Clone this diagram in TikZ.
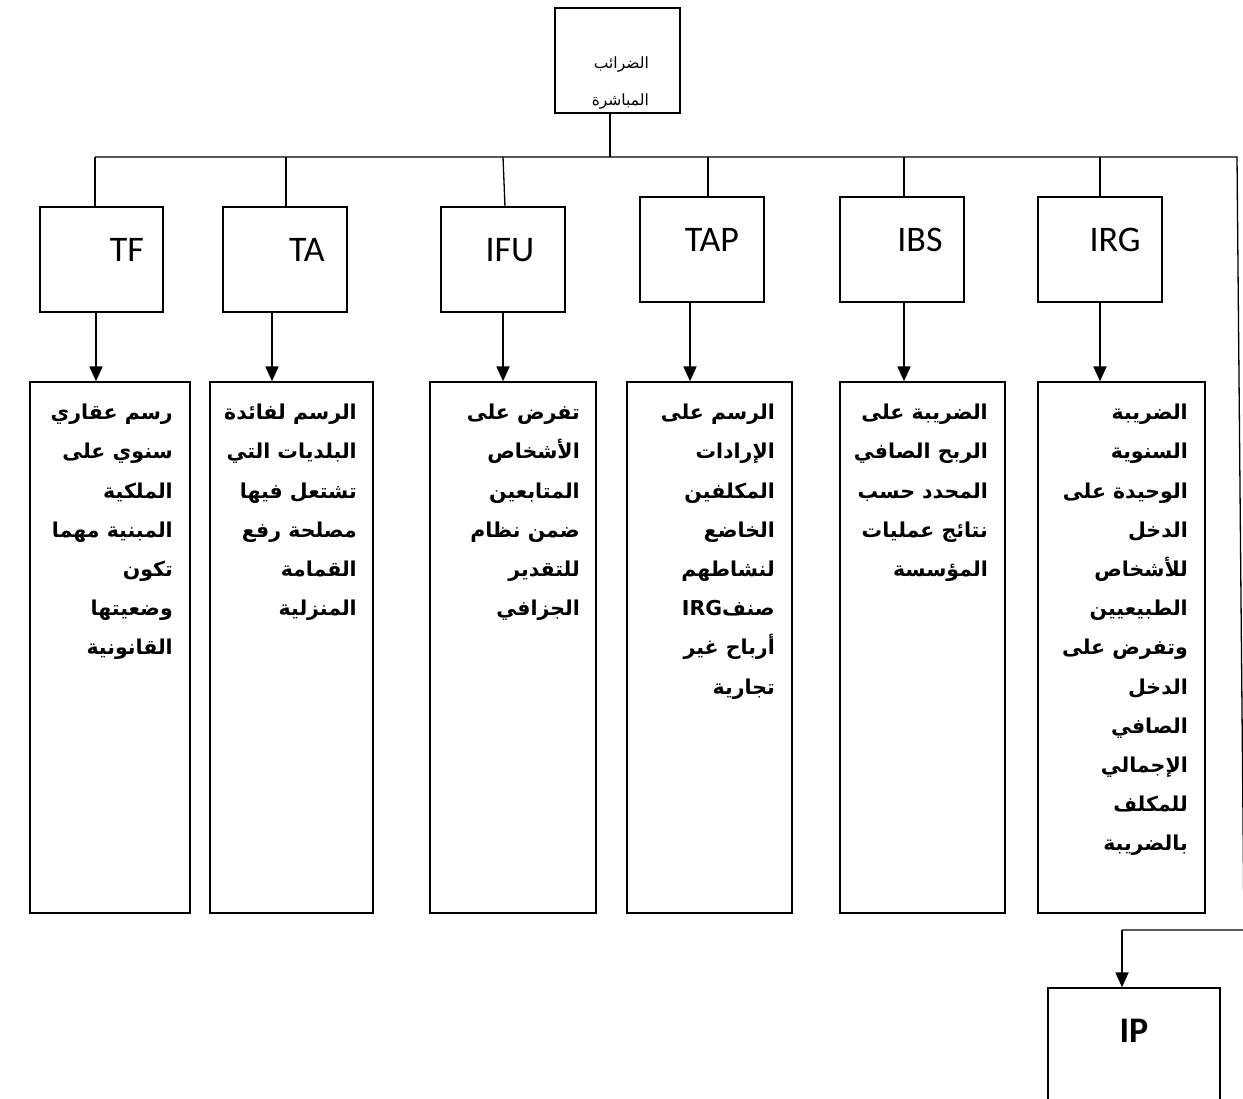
\documentclass[tikz,border=0pt]{standalone}
\usepackage{fontspec}
\setmainfont{Liberation Sans}
\newfontfamily\arabicfont[Script=Arabic]{DejaVu Sans}
\newfontfamily\latinlab{Carlito}
\TeXXeTstate=1
\usetikzlibrary{arrows.meta}
\newcommand\arl[1]{\beginR #1\endR}
\begin{document}
\begin{tikzpicture}[x=1pt,y=-1pt,
  box/.style={draw,line width=1.3pt,inner sep=0pt},
  lab/.style={font=\latinlab\fontsize{36}{40}\selectfont, anchor=base, inner sep=0pt},
  body/.style={anchor=north east, align=right, inner sep=0pt, font=\arabicfont\bfseries\fontsize{20.5}{39.2}\selectfont},
  arr/.style={line width=1.8pt,-{Triangle[width=13pt,length=15pt]}},
  ln/.style={line width=1.3pt}]
\useasboundingbox[fill=white] (0,0) rectangle (1243,1099);

% top box
\node[box,minimum width=125,minimum height=105] (top) at (617.5,60.5) {};
\node[anchor=north east,align=right,inner sep=0pt,font=\arabicfont\fontsize{15.5}{37}\selectfont] (toptxt) at (649,57) {\arl{الضرائب}\\\arl{المباشرة}};

% label boxes
\node[box,minimum width=123,minimum height=105] (tf) at (101.5,259.5) {};
\node[box,minimum width=124,minimum height=105] (ta) at (285,259.5) {};
\node[box,minimum width=124,minimum height=105] (ifu) at (503,259.5) {};
\node[box,minimum width=124,minimum height=105] (tap) at (702,249.5) {};
\node[box,minimum width=124,minimum height=105] (ibs) at (902,249.5) {};
\node[box,minimum width=124,minimum height=105] (irg) at (1100,249.5) {};

\node[lab] (tfl) at (127,262) {TF};
\node[lab] (tal) at (307,262) {TA};
\node[lab] (ifulab) at (510,262) {IFU};
\node[lab] (tapl) at (712,252) {TAP};
\node[lab] (ibsl) at (920,252) {IBS};
\node[lab] (irgl) at (1115,252) {IRG};

% description boxes
\node[box,minimum width=160,minimum height=531] (tfd) at (110,647.5) {};
\node[box,minimum width=163,minimum height=531] (tad) at (291.5,647.5) {};
\node[box,minimum width=166,minimum height=531] (ifud) at (513,647.5) {};
\node[box,minimum width=165,minimum height=531] (tapd) at (709.5,647.5) {};
\node[box,minimum width=165,minimum height=531] (ibsd) at (922.5,647.5) {};
\node[box,minimum width=167,minimum height=531] (irgd) at (1121.5,647.5) {};

\node[body] (tft) at (173,404) {\arl{رسم عقاري}\\\arl{سنوي على}\\\arl{الملكية}\\\arl{المبنية مهما}\\\arl{تكون}\\\arl{وضعيتها}\\\arl{القانونية}};
\node[body] (tat) at (357,404) {\arl{الرسم لفائدة}\\\arl{البلديات التي}\\\arl{تشتعل فيها}\\\arl{مصلحة رفع}\\\arl{القمامة}\\\arl{المنزلية}};
\node[body] (ifut) at (580,404) {\arl{تفرض على}\\\arl{الأشخاص}\\\arl{المتابعين}\\\arl{ضمن نظام}\\\arl{للتقدير}\\\arl{الجزافي}};
\node[body] (tapt) at (775,404) {\arl{الرسم على}\\\arl{الإرادات}\\\arl{المكلفين}\\\arl{الخاضع}\\\arl{لنشاطهم}\\\arl{صنف\beginL IRG\endL}\\\arl{أرباح غير}\\\arl{تجارية}};
\node[body] (ibst) at (988,404) {\arl{الضريبة على}\\\arl{الربح الصافي}\\\arl{المحدد حسب}\\\arl{نتائج عمليات}\\\arl{المؤسسة}};
\node[body] (irgt) at (1188,404) {\arl{الضريبة}\\\arl{السنوية}\\\arl{الوحيدة على}\\\arl{الدخل}\\\arl{للأشخاص}\\\arl{الطبيعيين}\\\arl{وتفرض على}\\\arl{الدخل}\\\arl{الصافي}\\\arl{الإجمالي}\\\arl{للمكلف}\\\arl{بالضريبة}};

% IP box
\node[box,minimum width=172,minimum height=130] (ip) at (1134,1053) {};
\node[lab,font=\latinlab\bfseries\fontsize{36}{40}\selectfont] (ipl) at (1134,1042) {IP};

% bus
\coordinate (bus) at (610,157);
\coordinate (busL) at (95,157);
\coordinate (busR) at (1237,157);
\coordinate (down) at (1244,930);
\coordinate (ipc) at (1122,930);
\draw[ln] (top.south -| bus) -- (bus);
\draw[ln] (busL) -- (busR) -- (down) -- (ipc);
\draw[arr] (ipc) -- (ip.north -| ipc);

% stubs
\draw[ln] (busL) -- (tf.north -| busL);
\draw[ln] (286,157) -- (ta.north -| 286,0);
\draw[ln] (503,157) -- (505,207);
\draw[ln] (708,157) -- (tap.north -| 708,0);
\draw[ln] (904,157) -- (ibs.north -| 904,0);
\draw[ln] (1100,157) -- (irg.north);

% arrows
\draw[arr] (tf.south -| 96,0) -- (tfd.north -| 96,0);
\draw[arr] (ta.south -| 272,0) -- (tad.north -| 272,0);
\draw[arr] (ifu.south -| 503,0) -- (ifud.north -| 503,0);
\draw[arr] (tap.south -| 690,0) -- (tapd.north -| 690,0);
\draw[arr] (ibs.south -| 904,0) -- (ibsd.north -| 904,0);
\draw[arr] (irg.south -| 1100,0) -- (irgd.north -| 1100,0);
\end{tikzpicture}
\end{document}
